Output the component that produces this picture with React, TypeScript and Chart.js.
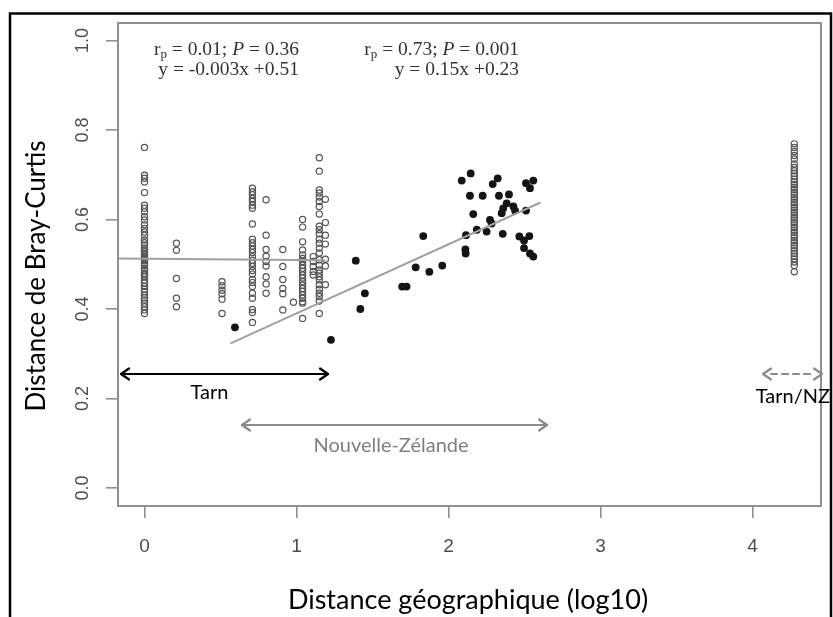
import React, { useEffect, useRef } from "react";
import { Chart, registerables } from "chart.js";

Chart.register(...registerables);

// ---------- axes ----------
const X_MIN = -0.1743;
const X_MAX = 4.4507;
const Y_MIN = -0.0402;
const Y_MAX = 1.039;
const X_TICKS = [0, 1, 2, 3, 4];
const Y_TICKS = [0, 0.2, 0.4, 0.6, 0.8, 1.0];
const X_TITLE = "Distance géographique (log10)";
const Y_TITLE = "Distance de Bray-Curtis";

// ---------- open circles (within Tarn, within NZ small distances, Tarn/NZ) ----------
const yAt0 = [0.761, 0.699, 0.692, 0.684, 0.66, 0.632, 0.625, 0.617, 0.606, 0.599, 0.588, 0.58, 0.572, 0.565, 0.554, 0.548, 0.543, 0.536, 0.532, 0.528, 0.524, 0.521, 0.517, 0.513, 0.508, 0.502, 0.497, 0.491, 0.486, 0.48, 0.476, 0.472, 0.465, 0.458, 0.45, 0.444, 0.439, 0.431, 0.425, 0.42, 0.413, 0.405, 0.398, 0.39];
const yAt021 = [0.547, 0.531, 0.468, 0.424, 0.405];
const yAt051 = [0.461, 0.452, 0.442, 0.434, 0.422, 0.39];
const yAt071 = [0.67, 0.662, 0.655, 0.647, 0.64, 0.632, 0.625, 0.59, 0.556, 0.548, 0.541, 0.533, 0.526, 0.517, 0.509, 0.502, 0.495, 0.486, 0.478, 0.466, 0.459, 0.45, 0.435, 0.424, 0.399, 0.392, 0.37];
const yAt080 = [0.644, 0.565, 0.533, 0.518, 0.506, 0.496, 0.472, 0.456, 0.435];
const yAt091 = [0.533, 0.495, 0.466, 0.446, 0.434, 0.398];
const yAt098 = [0.415];
const yAt104 = [0.6, 0.583, 0.55, 0.532, 0.521, 0.513, 0.506, 0.498, 0.491, 0.484, 0.476, 0.469, 0.461, 0.453, 0.446, 0.439, 0.431, 0.424, 0.416, 0.413, 0.379];
const yAt111 = [0.517, 0.506, 0.495, 0.484, 0.476];
const yAt115 = [0.738, 0.708, 0.666, 0.659, 0.65, 0.64, 0.629, 0.612, 0.585, 0.577, 0.568, 0.556, 0.547, 0.536, 0.525, 0.51, 0.498, 0.487, 0.48, 0.472, 0.465, 0.454, 0.444, 0.435, 0.428, 0.418, 0.39];
const yAt119 = [0.645, 0.593, 0.565, 0.545, 0.511, 0.496, 0.454];
const yAt428 = [0.769, 0.761, 0.752, 0.743, 0.735, 0.724, 0.716, 0.709, 0.703, 0.697, 0.69, 0.684, 0.678, 0.672, 0.667, 0.661, 0.655, 0.65, 0.644, 0.638, 0.633, 0.627, 0.621, 0.616, 0.61, 0.604, 0.599, 0.593, 0.588, 0.582, 0.576, 0.571, 0.565, 0.559, 0.553, 0.548, 0.542, 0.536, 0.53, 0.524, 0.518, 0.512, 0.505, 0.497, 0.483];
const openColumnX = [0, 0.21, 0.51, 0.71, 0.8, 0.91, 0.98, 1.04, 1.11, 1.15, 1.19, 4.275];
const openColumnY = [yAt0, yAt021, yAt051, yAt071, yAt080, yAt091, yAt098, yAt104, yAt111, yAt115, yAt119, yAt428];

// ---------- filled circles (NZ between sites) ----------
const nzX = [0.595, 1.227, 1.39, 1.42, 1.45, 1.695, 1.724, 1.784, 1.834, 1.874, 1.959, 2.087, 2.146, 2.141, 2.163, 2.115, 2.111, 2.113, 2.186, 2.225, 2.251, 2.273, 2.284, 2.291, 2.324, 2.332, 2.357, 2.35, 2.36, 2.383, 2.398, 2.427, 2.438, 2.51, 2.466, 2.497, 2.532, 2.497, 2.536, 2.558, 2.51, 2.536, 2.558];
const nzY = [0.359, 0.331, 0.508, 0.4, 0.435, 0.45, 0.45, 0.493, 0.563, 0.483, 0.497, 0.687, 0.703, 0.653, 0.612, 0.565, 0.533, 0.524, 0.577, 0.653, 0.573, 0.599, 0.591, 0.679, 0.692, 0.653, 0.568, 0.614, 0.625, 0.636, 0.656, 0.629, 0.62, 0.62, 0.562, 0.553, 0.563, 0.536, 0.524, 0.517, 0.681, 0.67, 0.687];

// ---------- regression lines ----------
const fit1X = [-0.1743, 1.19];
const fit1Y = [0.513, 0.509];
const fit2X = [0.566, 2.605];
const fit2Y = [0.323, 0.638];

// ---------- annotations (data units) ----------
const statsLeft = { rp: "0.01", p: "0.36", eq: "y = -0.003x +0.51", x: 1.016 };
const statsRight = { rp: "0.73", p: "0.001", eq: "y = 0.15x +0.23", x: 2.464 };
const statsLineY = [0.979, 0.934];
const arrowLabels = ["Tarn", "Nouvelle-Zélande", "Tarn/NZ"];
const arrowX1 = [-0.161, 0.635, 4.063];
const arrowX2 = [1.214, 2.655, 4.464];
const arrowY = [0.2547, 0.1408, 0.2547];
const labelX = [0.428, 1.622, 4.266];
const labelY = [0.2134, 0.0939, 0.2034];
const arrowColors = ["#000000", "#8a8a8a", "#8a8a8a"];
const labelColors = ["#000000", "#7f7f7f", "#000000"];
const arrowDashed = [false, false, true];

const decorPlugin = {
  id: "decor",
  beforeDraw(chart: any) {
    const ctx = chart.ctx;
    ctx.save();
    ctx.fillStyle = "#ffffff";
    ctx.fillRect(0, 0, chart.width, chart.height);
    ctx.strokeStyle = "#000000";
    ctx.lineWidth = 2.5;
    ctx.strokeRect(10, 13.5, 821, 700);
    ctx.restore();
  },
  afterDraw(chart: any) {
    const ctx = chart.ctx;
    const xs = chart.scales.x;
    const ys = chart.scales.y;
    const ca = chart.chartArea;
    ctx.save();
    // plot box
    ctx.strokeStyle = "#8f8f8f";
    ctx.lineWidth = 2;
    ctx.strokeRect(ca.left, ca.top, ca.right - ca.left, ca.bottom - ca.top);

    // stats text
    const drawStats = (s: any) => {
      const rx = xs.getPixelForValue(s.x);
      const y1 = ys.getPixelForValue(statsLineY[0]);
      const y2 = ys.getPixelForValue(statsLineY[1]);
      const main = "19.5px 'Liberation Serif'";
      const segs = [
        { t: "r", f: main, dy: 0 },
        { t: "p", f: "13px 'Liberation Serif'", dy: 5 },
        { t: " = " + s.rp + "; ", f: main, dy: 0 },
        { t: "P", f: "italic 19.5px 'Liberation Serif'", dy: 0 },
        { t: " = " + s.p, f: main, dy: 0 },
      ];
      ctx.fillStyle = "#333333";
      ctx.textBaseline = "middle";
      ctx.textAlign = "left";
      let w = 0;
      segs.forEach((g) => { ctx.font = g.f; w += ctx.measureText(g.t).width; });
      let x = rx - w;
      segs.forEach((g) => { ctx.font = g.f; ctx.fillText(g.t, x, y1 + g.dy); x += ctx.measureText(g.t).width; });
      ctx.font = main;
      ctx.textAlign = "right";
      ctx.fillText(s.eq, rx, y2);
    };
    drawStats(statsLeft);
    drawStats(statsRight);

    // arrows
    for (let i = 0; i < arrowLabels.length; i++) {
      const x1 = xs.getPixelForValue(arrowX1[i]);
      const x2 = xs.getPixelForValue(arrowX2[i]);
      const y = Math.round(ys.getPixelForValue(arrowY[i]));
      ctx.strokeStyle = arrowColors[i];
      ctx.lineWidth = 2.2;
      ctx.lineCap = "round";
      ctx.lineJoin = "round";
      if (arrowDashed[i]) ctx.setLineDash([6, 5]);
      ctx.beginPath();
      ctx.moveTo(x1 + (arrowDashed[i] ? 9 : 1), y);
      ctx.lineTo(x2 - (arrowDashed[i] ? 9 : 1), y);
      ctx.stroke();
      ctx.setLineDash([]);
      ctx.beginPath();
      ctx.moveTo(x1 + 9, y - 5.5);
      ctx.lineTo(x1 + 1, y);
      ctx.lineTo(x1 + 9, y + 5.5);
      ctx.moveTo(x2 - 9, y - 5.5);
      ctx.lineTo(x2 - 1, y);
      ctx.lineTo(x2 - 9, y + 5.5);
      ctx.stroke();
      ctx.fillStyle = labelColors[i];
      ctx.font = "20px Lato";
      ctx.textAlign = "center";
      ctx.textBaseline = "middle";
      ctx.fillText(arrowLabels[i], xs.getPixelForValue(labelX[i]), ys.getPixelForValue(labelY[i]));
    }

    // axis titles
    ctx.fillStyle = "#000000";
    ctx.textAlign = "center";
    ctx.textBaseline = "middle";
    ctx.font = "27px Lato";
    ctx.fillText(X_TITLE, 468, 600);
    ctx.font = "26px Lato";
    ctx.translate(37, 276);
    ctx.rotate(-Math.PI / 2);
    ctx.fillText(Y_TITLE, 0, 0);
    ctx.restore();
  },
};

export default function App() {
  const ref = useRef<HTMLCanvasElement | null>(null);
  useEffect(() => {
    if (!ref.current) return;
    const openData: { x: number; y: number }[] = [];
    openColumnX.forEach((x, i) => openColumnY[i].forEach((y) => openData.push({ x, y })));
    const nzData = nzX.map((x, i) => ({ x, y: nzY[i] }));
    const gridCommon = {
      display: true,
      drawOnChartArea: false,
      drawTicks: true,
      tickLength: 12,
      color: "#8f8f8f",
      lineWidth: 1.6,
    };
    const chart = new Chart(ref.current, {
      type: "scatter",
      data: {
        datasets: [
          {
            type: "line",
            data: fit1X.map((x, i) => ({ x, y: fit1Y[i] })),
            borderColor: "#a0a0a0",
            borderWidth: 2,
            pointRadius: 0,
            showLine: true,
          } as any,
          {
            type: "line",
            data: fit2X.map((x, i) => ({ x, y: fit2Y[i] })),
            borderColor: "#a0a0a0",
            borderWidth: 2,
            pointRadius: 0,
            showLine: true,
          } as any,
          {
            data: openData,
            pointRadius: 3.1,
            pointBorderWidth: 1.2,
            pointBorderColor: "#555555",
            pointBackgroundColor: "rgba(255,255,255,0)",
          },
          {
            data: nzData,
            pointRadius: 3.9,
            pointBorderWidth: 0,
            pointBackgroundColor: "#141414",
            pointBorderColor: "#141414",
          },
        ],
      },
      options: {
        responsive: false,
        animation: false,
        devicePixelRatio: 1,
        layout: { padding: { left: 0, top: 23, right: 12, bottom: 0 } },
        plugins: { legend: { display: false }, tooltip: { enabled: false } },
        scales: {
          x: {
            type: "linear",
            min: X_MIN,
            max: X_MAX,
            afterBuildTicks: (s: any) => { s.ticks = X_TICKS.map((v) => ({ value: v })); },
            afterFit: (s: any) => { s.height = 111; },
            grid: gridCommon,
            border: { display: true, color: "#8f8f8f", width: 2 },
            ticks: {
              color: "#4d4d4d",
              font: { family: "'Liberation Sans'", size: 19 },
              padding: 17,
              maxRotation: 0,
              callback: (v: any) => String(v),
            },
          },
          y: {
            type: "linear",
            min: Y_MIN,
            max: Y_MAX,
            afterBuildTicks: (s: any) => { s.ticks = Y_TICKS.map((v) => ({ value: v })); },
            afterFit: (s: any) => { s.width = 118; },
            grid: gridCommon,
            border: { display: true, color: "#8f8f8f", width: 2 },
            ticks: {
              color: "#4d4d4d",
              font: { family: "'Liberation Sans'", size: 18 },
              padding: 10,
              minRotation: 90,
              maxRotation: 90,
              crossAlign: "center",
              callback: (v: any) => Number(v).toFixed(1),
            },
          },
        },
      } as any,
      plugins: [decorPlugin],
    });
    return () => chart.destroy();
  }, []);
  return (
    <div style={{ position: "fixed", left: 0, top: 0, width: 833, height: 617, overflow: "hidden", background: "#fff" }}>
      <canvas ref={ref} width={833} height={617} style={{ width: 833, height: 617, display: "block" }} />
    </div>
  );
}
